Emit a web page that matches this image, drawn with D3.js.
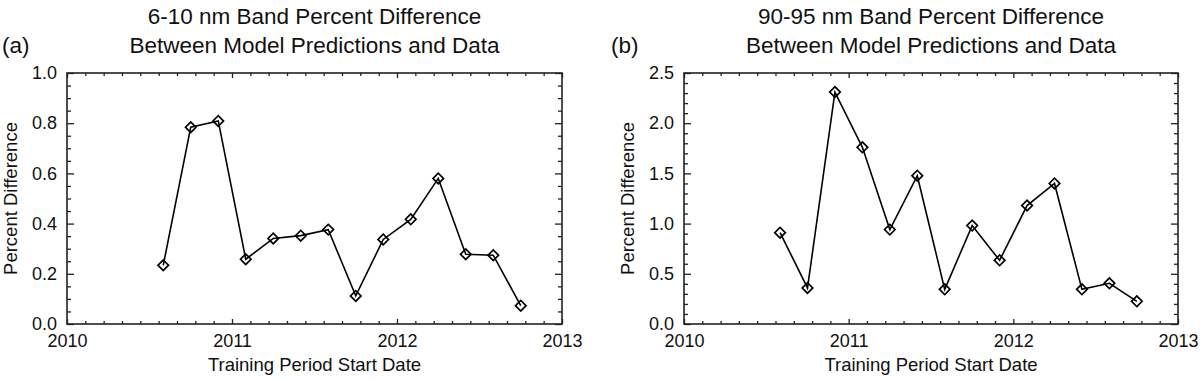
<!DOCTYPE html>
<html>
<head>
<meta charset="utf-8">
<script src="https://cdn.jsdelivr.net/npm/d3@7"></script>
<style>
  html, body { margin: 0; padding: 0; background: #fff; }
  svg { display: block; }
  text { font-family: "Liberation Sans", Arial, sans-serif; fill: #111; }
</style>
</head>
<body>
<svg id="chart" width="1200" height="380"></svg>
<script>
// ---- Data ----
const dates = ["2010-08", "2010-10", "2010-12", "2011-02", "2011-04", "2011-06", "2011-08",
               "2011-10", "2011-12", "2012-02", "2012-04", "2012-06", "2012-08", "2012-10"];
const band610 = [0.234, 0.784, 0.809, 0.258, 0.341, 0.352, 0.376,
                 0.112, 0.337, 0.417, 0.580, 0.278, 0.274, 0.073];
const band9095 = [0.91, 0.359, 2.31, 1.76, 0.94, 1.477, 0.345,
                  0.98, 0.634, 1.18, 1.40, 0.345, 0.405, 0.226];
const xTickLabels = ["2010", "2011", "2012", "2013"];
const yTicksA = [0.0, 0.2, 0.4, 0.6, 0.8, 1.0];
const yTicksB = [0.0, 0.5, 1.0, 1.5, 2.0, 2.5];
const titlesA = ["6-10 nm Band Percent Difference", "Between Model Predictions and Data"];
const titlesB = ["90-95 nm Band Percent Difference", "Between Model Predictions and Data"];
const panelLabels = ["(a)", "(b)"];
const xLabel = "Training Period Start Date";
const yLabel = "Percent Difference";

function toYear(s) {
  const [y, m] = s.split("-").map(Number);
  return y + (m - 1) / 12;
}

const svg = d3.select("#chart");

function panel(cfg) {
  const { left, right, top, bottom, values, yTicks, yMinorStep, titles, label, labelX } = cfg;
  const g = svg.append("g");
  const x = d3.scaleLinear().domain([2010, 2013]).range([left, right]);
  const y = d3.scaleLinear().domain([yTicks[0], yTicks[yTicks.length - 1]]).range([bottom, top]);
  const xMajor = xTickLabels.map(Number);
  const xMinor = d3.range(0, 27).map(k => 2010 + k / 9).filter(v => !xMajor.some(M => Math.abs(M - v) < 1e-6));
  const ymax = yTicks[yTicks.length - 1];
  const yMinor = d3.range(yTicks[0], ymax + 1e-9, yMinorStep).filter(v => !yTicks.some(M => Math.abs(M - v) < 1e-6));

  const fmt = d3.format(".1f");
  g.append("g").attr("transform", `translate(0,${bottom})`)
    .call(d3.axisBottom(x).tickValues(xMajor).tickSize(-5).tickPadding(10).tickFormat(d => String(d)));
  g.append("g").attr("transform", `translate(0,${bottom})`)
    .call(d3.axisBottom(x).tickValues(xMinor).tickSize(-3).tickFormat(""));
  g.append("g").attr("transform", `translate(0,${top})`)
    .call(d3.axisTop(x).tickValues(xMajor).tickSize(-5).tickFormat(""));
  g.append("g").attr("transform", `translate(0,${top})`)
    .call(d3.axisTop(x).tickValues(xMinor).tickSize(-3).tickFormat(""));
  g.append("g").attr("transform", `translate(${left},0)`)
    .call(d3.axisLeft(y).tickValues(yTicks).tickSize(-7).tickPadding(10).tickFormat(fmt));
  g.append("g").attr("transform", `translate(${left},0)`)
    .call(d3.axisLeft(y).tickValues(yMinor).tickSize(-4).tickFormat(""));
  g.append("g").attr("transform", `translate(${right},0)`)
    .call(d3.axisRight(y).tickValues(yTicks).tickSize(-7).tickFormat(""));
  g.append("g").attr("transform", `translate(${right},0)`)
    .call(d3.axisRight(y).tickValues(yMinor).tickSize(-4).tickFormat(""));

  g.selectAll(".domain").remove();
  g.selectAll(".tick line").attr("stroke", "#222").attr("stroke-width", 1.3);
  g.selectAll(".tick text").attr("font-size", 18).attr("fill", "#111")
    .attr("font-family", "Liberation Sans, Arial, sans-serif");

  g.append("rect").attr("x", left).attr("y", top).attr("width", right - left).attr("height", bottom - top)
    .attr("fill", "none").attr("stroke", "#222").attr("stroke-width", 1.6);

  const pts = dates.map((d, i) => ({ x: toYear(d), y: values[i] }));
  g.append("path").datum(pts)
    .attr("d", d3.line().x(d => x(d.x)).y(d => y(d.y)))
    .attr("fill", "none").attr("stroke", "#000").attr("stroke-width", 1.6);
  const sym = d3.symbol().type(d3.symbolSquare).size(56);
  g.selectAll(".mk").data(pts).join("path")
    .attr("transform", d => `translate(${x(d.x)},${y(d.y)}) rotate(45)`)
    .attr("d", sym)
    .attr("fill", "none").attr("stroke", "#000").attr("stroke-width", 1.7);

  const cx = (left + right) / 2;
  g.append("text").attr("x", cx).attr("y", 24).attr("text-anchor", "middle").attr("font-size", 22.5).text(titles[0]);
  g.append("text").attr("x", cx).attr("y", 53).attr("text-anchor", "middle").attr("font-size", 22.5).text(titles[1]);
  g.append("text").attr("x", labelX).attr("y", 53).attr("font-size", 22.5).text(label);

  g.append("text").attr("x", cx).attr("y", 371).attr("text-anchor", "middle").attr("font-size", 18.5).text(xLabel);
  g.append("text").attr("transform", `translate(${left - 50},${(top + bottom) / 2}) rotate(-90)`)
    .attr("text-anchor", "middle").attr("font-size", 18.5).text(yLabel);
}

panel({ left: 67, right: 562, top: 73, bottom: 324, values: band610, yTicks: yTicksA, yMinorStep: 0.05,
        titles: titlesA, label: panelLabels[0], labelX: 2 });
panel({ left: 684, right: 1178, top: 73, bottom: 324, values: band9095, yTicks: yTicksB, yMinorStep: 0.1,
        titles: titlesB, label: panelLabels[1], labelX: 611 });
</script>
</body>
</html>
